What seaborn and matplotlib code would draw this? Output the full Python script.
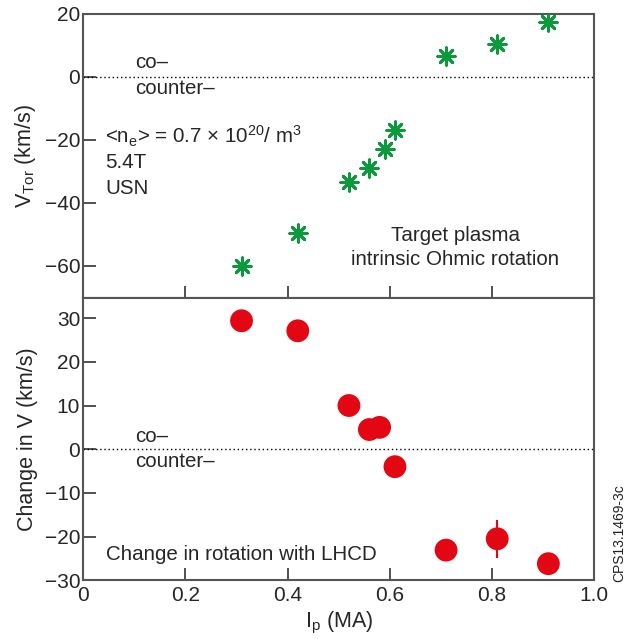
import numpy as np
import pandas as pd
import matplotlib
matplotlib.use("Agg")
import matplotlib.pyplot as plt
import seaborn as sns

# Plasma current (MA) for each discharge
ip_ma = [0.31, 0.42, 0.52, 0.56, 0.59, 0.61, 0.71, 0.81, 0.91]
# Target plasma intrinsic Ohmic toroidal rotation (km/s)
v_tor = [-60.0, -49.7, -33.5, -28.8, -22.9, -16.9, 6.6, 10.3, 17.5]

# Change in rotation with LHCD (km/s)
ip_lh = [0.31, 0.42, 0.52, 0.56, 0.58, 0.61, 0.71, 0.81, 0.91]
dv_lh = [29.4, 27.1, 10.0, 4.5, 5.0, -4.0, -23.1, -20.5, -26.2]
dv_err = [0, 0, 0, 0, 0, 0, 0, 4.4, 0]

x_ticks = [0, 0.2, 0.4, 0.6, 0.8, 1.0]
x_ticklabels = ["0", "0.2", "0.4", "0.6", "0.8", "1.0"]
top_yticks = [20, 0, -20, -40, -60]
bot_yticks = [30, 20, 10, 0, -10, -20, -30]

GREEN = "#0a9a3c"
RED = "#e30613"
FRAME = "#555555"

sns.set_theme(style="white")
plt.rcParams["font.family"] = ["Liberation Sans", "DejaVu Sans"]
plt.rcParams["mathtext.fontset"] = "custom"
plt.rcParams["mathtext.rm"] = "Liberation Sans"
plt.rcParams["mathtext.it"] = "Liberation Sans"

fig = plt.figure(figsize=(6.27, 6.39), dpi=100)
L, R = 0.1324, 0.948
ax1 = fig.add_axes([L, 0.5336, R - L, 0.9786 - 0.5336])
ax2 = fig.add_axes([L, 0.0919, R - L, 0.5336 - 0.0919])

df_top = pd.DataFrame({"ip": ip_ma, "v": v_tor})
df_bot = pd.DataFrame({"ip": ip_lh, "dv": dv_lh, "err": dv_err})

sns.scatterplot(data=df_top, x="ip", y="v", ax=ax1, marker=(8, 2, 0),
                s=160, color=GREEN, edgecolor=GREEN, linewidth=2.0, zorder=3)

sns.scatterplot(data=df_bot, x="ip", y="dv", ax=ax2, marker="o",
                s=270, color=RED, edgecolor="none", linewidth=0, zorder=3)
has_err = df_bot[df_bot["err"] > 0]
ax2.errorbar(has_err["ip"], has_err["dv"], yerr=has_err["err"], fmt="none",
             ecolor=RED, elinewidth=1.5, capsize=0, zorder=2)

for ax in (ax1, ax2):
    ax.axhline(0, color="black", ls=(0, (1, 2)), lw=1.0, zorder=1)
    ax.set_xlim(0, 1.0)
    ax.set_xticks(x_ticks)
    for sp in ax.spines.values():
        sp.set_visible(True)
        sp.set_color(FRAME)
        sp.set_linewidth(1.5)
    ax.tick_params(axis="both", direction="in", length=9, width=1.2,
                   color="#333333", labelsize=15, pad=2,
                   left=True, bottom=True, top=False, right=False)
ax2.tick_params(axis="x", pad=4)

ax1.set_ylim(-70.2, 20)
ax1.set_yticks(top_yticks)
ax1.set_yticklabels(["20", "0", "\u221220", "\u221240", "\u221260"])
ax1.set_xticklabels([])
ax1.set_xlabel("")
ax1.set_ylabel(r"V$_{\mathregular{Tor}}$ (km/s)", fontsize=15.5, labelpad=5)

ax2.set_ylim(-30, 34.6)
ax2.set_yticks(bot_yticks)
ax2.set_yticklabels(["30", "20", "10", "0", "\u221210", "\u221220", "\u221230"])
ax2.set_xticklabels(x_ticklabels)
ax2.set_xlabel(r"I$_{\mathregular{p}}$ (MA)", fontsize=15.5, labelpad=4)
ax2.set_ylabel("Change in V (km/s)", fontsize=15.5, labelpad=5)

fs = 14.8
ax1.text(0.102, 2.7, "co\u2013", fontsize=fs, va="baseline", ha="left")
ax1.text(0.102, -5.5, "counter\u2013", fontsize=fs, va="baseline", ha="left")
ax1.text(0.043, -21.1,
         r"<n$_{\mathregular{e}}$> = 0.7 $\times$ 10$^{\mathregular{20}}$/ m$^{\mathregular{3}}$",
         fontsize=fs, va="baseline", ha="left")
ax1.text(0.043, -29.1, "5.4T", fontsize=fs, va="baseline", ha="left")
ax1.text(0.043, -37.2, "USN", fontsize=fs, va="baseline", ha="left")
ax1.text(0.728, -52.1, "Target plasma", fontsize=fs, va="baseline", ha="center")
ax1.text(0.728, -59.8, "intrinsic Ohmic rotation", fontsize=fs,
         va="baseline", ha="center")

ax2.text(0.102, 1.6, "co\u2013", fontsize=fs, va="baseline", ha="left")
ax2.text(0.102, -4.0, "counter\u2013", fontsize=fs, va="baseline", ha="left")
ax2.text(0.044, -25.4, "Change in rotation with LHCD", fontsize=fs,
         va="baseline", ha="left")

fig.text(0.987, 0.089, "CPS13.1469-3c", rotation=90, fontsize=10,
         ha="center", va="bottom", color="#222222")

fig.savefig("out.png", dpi=100)
